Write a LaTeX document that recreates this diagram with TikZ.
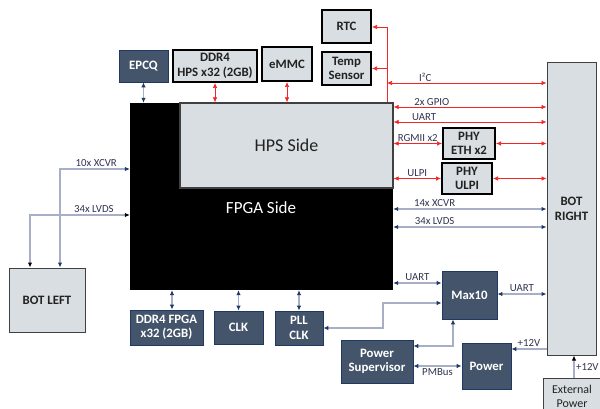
\documentclass[tikz,border=0pt]{standalone}
\usepackage{fontspec}
\setmainfont{Carlito}
\usetikzlibrary{arrows.meta,calc}

\definecolor{cDark}{HTML}{44546A}
\definecolor{cNavy}{HTML}{1F3864}
\definecolor{cLight}{HTML}{D8DEE1}
\definecolor{cEdge}{HTML}{404040}
\definecolor{cBus}{HTML}{A8AEC6}
\definecolor{cRed}{HTML}{F52525}
\definecolor{cLabel}{HTML}{30344F}
\definecolor{cText}{HTML}{222222}

\newcommand{\blkfont}{\fontsize{12.8}{14.5}\selectfont\bfseries}
\newcommand{\lblfont}{\fontsize{10.8}{12}\selectfont}

\tikzset{
  darkblk/.style={draw=cNavy, line width=0.8pt, fill=cDark, text=white, font=\blkfont, align=center, inner sep=0pt},
  lightblk/.style={draw=black, line width=2pt, fill=cLight, text=cText, font=\blkfont, align=center, inner sep=0pt},
  botblk/.style={lightblk, draw=cEdge, line width=1pt},
  redarr/.style={draw=cRed, line width=0.7pt, >={Latex[length=5pt,width=4.5pt]}},
  busarr/.style={draw=cBus, line width=1.3pt, >={Latex[length=5pt,width=4.5pt,color=cNavy]}},
  lbl/.style={font=\lblfont, text=cLabel, inner sep=1.5pt}
}

\begin{document}
\begin{tikzpicture}[x=1pt, y=-1pt]
    \useasboundingbox (0,0) rectangle (600,409);
    %% FPGA und HPS
    \node[fill=black, inner sep=0pt, minimum width=263pt, minimum height=187pt] (fpga) at (261.5,196.5) {};
    \node[botblk, line width=1.2pt, font=\fontsize{18}{20}\selectfont, minimum width=213pt, minimum height=85pt] (hps) at (286.5,145.5) {HPS Side};
    \node[text=white, font=\fontsize{17}{19}\selectfont] (fpgatxt) at (261,208) {FPGA Side};
    %% Bausteine oben
    \node[darkblk, minimum width=49pt, minimum height=32pt] (epcq) at (143.5,66) {EPCQ};
    \node[lightblk, minimum width=84pt, minimum height=32pt] (ddrh) at (215,66) {DDR4\\HPS x32 (2GB)};
    \node[lightblk, minimum width=50pt, minimum height=34pt] (emmc) at (287,64) {eMMC};
    \node[lightblk, minimum width=49pt, minimum height=33pt] (rtc) at (346.5,26.5) {RTC};
    \node[lightblk, minimum width=49pt, minimum height=33pt] (temp) at (346.5,68.5) {Temp\\Sensor};
    %% rechts
    \node[botblk, minimum width=49pt, minimum height=292pt] (botr) at (571.5,209) {BOT\\RIGHT};
    \node[lightblk, minimum width=52pt, minimum height=31pt] (phye) at (469,143.5) {PHY\\ETH x2};
    \node[lightblk, minimum width=50pt, minimum height=31pt] (phyu) at (467,178.5) {PHY\\ULPI};
    \node[botblk, font=\fontsize{12}{14}\selectfont, minimum width=58pt, minimum height=36pt] (ext) at (572,396) {External\\Power};
    %% links
    \node[botblk, minimum width=76pt, minimum height=64pt] (botl) at (47,300) {BOT LEFT};
    %% unten
    \node[darkblk, minimum width=73pt, minimum height=35pt] (ddrf) at (166.5,327.5) {DDR4 FPGA\\x32 (2GB)};
    \node[darkblk, minimum width=49pt, minimum height=33pt] (clk) at (238.5,327.5) {CLK};
    \node[darkblk, minimum width=48pt, minimum height=34pt] (pll) at (299,328) {PLL\\CLK};
    \node[darkblk, minimum width=55pt, minimum height=48pt] (max) at (469.5,295) {Max10};
    \node[darkblk, minimum width=72pt, minimum height=43pt] (psup) at (377,361.5) {Power\\Supervisor};
    \node[darkblk, minimum width=49pt, minimum height=46pt] (pwr) at (486.5,366) {Power};

    %% rote Verbindungen (HPS)
    \draw[redarr, <->] (ddrh.south) -- (ddrh.south |- hps.north);
    \draw[redarr, <->] (emmc.south) -- (emmc.south |- hps.north);
    \coordinate (itop) at (387,27);
    \draw[redarr] (itop) -- (itop |- hps.north);
    \draw[redarr, ->] (itop) -- (rtc.east |- itop);
    \draw[redarr, ->] (itop |- temp.east) -- (temp.east);
    \draw[redarr, <->] (itop |- 0,83) -- (botr.west |- 0,83) node[lbl, pos=0.24, above] {I²C};
    \draw[redarr, <->] (hps.east |- 0,107) -- (botr.west |- 0,107) node[lbl, pos=0.25, above] {2x GPIO};
    \draw[redarr, <->] (hps.east |- 0,122) -- (botr.west |- 0,122) node[lbl, pos=0.2, above] {UART};
    \draw[redarr, <->] (hps.east |- phye.west) -- (phye.west) node[lbl, midway, above] {RGMII x2};
    \draw[redarr, <->] (phye.east) -- (botr.west |- phye.east);
    \draw[redarr, <->] (hps.east |- phyu.west) -- (phyu.west) node[lbl, midway, above] {ULPI};
    \draw[redarr, <->] (phyu.east) -- (botr.west |- phyu.east);

    %% Busse (FPGA)
    \draw[busarr, <->] (fpga.east |- 0,209) -- (botr.west |- 0,209) node[lbl, pos=0.27, above] {14x XCVR};
    \draw[busarr, <->] (fpga.east |- 0,227) -- (botr.west |- 0,227) node[lbl, pos=0.27, above] {34x LVDS};
    \draw[busarr, <->] (epcq.south) -- (epcq.south |- fpga.north);
    \draw[busarr, <->] ($(ddrf.north)+(5.5,0)$) -- ($(ddrf.north |- fpga.south)+(5.5,0)$);
    \draw[busarr, <->] (clk.north) -- (clk.north |- fpga.south);
    \draw[busarr, <->] (pll.north) -- (pll.north |- fpga.south);
    \draw[busarr, <->] (botl.north -| 60,0) |- (fpga.west |- 0,169) node[lbl, pos=0.76, above] {10x XCVR};
    \draw[busarr, >={Latex[length=5pt,width=4.5pt,color=black]}, <->] (botl.north -| 30,0) |- (fpga.west |- 0,215) node[lbl, pos=0.82, above] {34x LVDS};

    %% Max10 und Power
    \draw[busarr, <->] (fpga.east |- 0,283) -- (max.west |- 0,283) node[lbl, midway, above] {UART};
    \draw[busarr, <->] (max.east |- 0,294) -- (botr.west |- 0,294) node[lbl, midway, above] {UART};
    \draw[busarr, <->] (pll.east) -- (pll.east -| 383,0) |- (max.west |- 0,303);
    \draw[busarr, <->] (max.south -| 453,0) |- (psup.east |- 0,346);
    \draw[busarr, <->] (psup.east |- 0,366) -- (pwr.west |- 0,366) node[lbl, midway, below] {PMBus};
    \draw[busarr, ->] (botr.west |- 0,349) -- (pwr.east |- 0,349) node[lbl, midway, above] {+12V};
    \draw[busarr, >={Latex[length=5pt,width=4.5pt,color=black]}, ->] (ext.north -| 574,0) -- (botr.south -| 574,0) node[lbl, midway, right] {+12V};
\end{tikzpicture}
\end{document}
